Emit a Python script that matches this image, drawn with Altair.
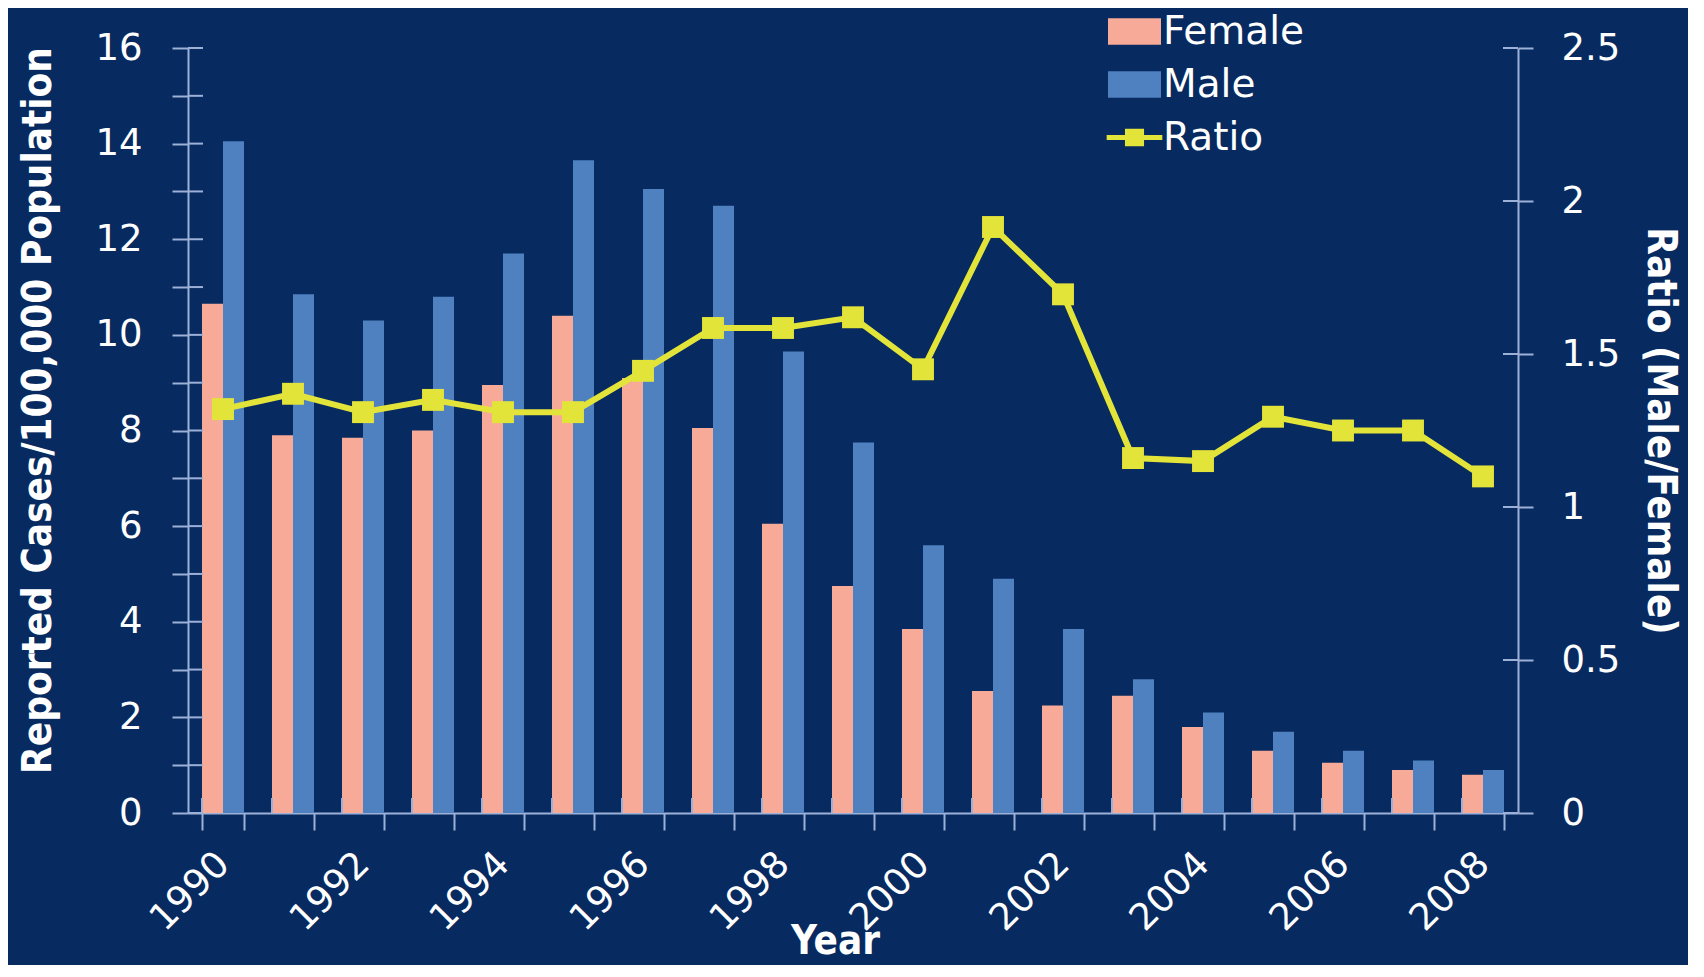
import altair as alt
import pandas as pd

years = list(range(1990, 2009))
female = [10.65, 7.9, 7.85, 8.0, 8.95, 10.4, 9.1, 8.05, 6.05, 4.75, 3.85, 2.55, 2.25, 2.45, 1.8, 1.3, 1.05, 0.9, 0.8]
male = [14.05, 10.85, 10.3, 10.8, 11.7, 13.65, 13.05, 12.7, 9.65, 7.75, 5.6, 4.9, 3.85, 2.8, 2.1, 1.7, 1.3, 1.1, 0.9]
ratio = [1.32, 1.37, 1.31, 1.35, 1.31, 1.31, 1.445, 1.585, 1.585, 1.62, 1.45, 1.915, 1.695, 1.16, 1.15, 1.295, 1.25, 1.25, 1.10]
series = ["Female", "Male", "Ratio"]
colors = ["#F8AA98", "#4F81C0", "#E3E43A"]
left_ticks = list(range(0, 17))
right_ticks = [0, 0.5, 1, 1.5, 2, 2.5]

BG = "#072A60"
AX = "#9DB1D8"
YEL = colors[2]
W, H = 1330, 765
TFONT = "'DejaVu Sans Condensed', 'Liberation Sans Narrow', 'DejaVu Sans', sans-serif"

df_bars = pd.DataFrame(
    [{"year": y, "series": "Female", "value": f} for y, f in zip(years, female)]
    + [{"year": y, "series": "Male", "value": m} for y, m in zip(years, male)]
)
df_ratio = pd.DataFrame({"year": years, "ratio": ratio})
df_lt = pd.DataFrame({"t": left_ticks})
df_rt = pd.DataFrame({"t": right_ticks})
df_xt = pd.DataFrame({"year": years})
df_leg = pd.DataFrame({"series": series})

x_scale = alt.Scale(paddingInner=0.4, paddingOuter=0.2)
left_scale = alt.Scale(domain=[0, 16], nice=False)
right_scale = alt.Scale(domain=[0, 2.5], nice=False)
color_scale = alt.Scale(domain=series, range=colors)

x_axis = alt.Axis(
    title="Year", labelAngle=-45, labelBaseline="middle",
    labelExpr="datum.value % 2 === 0 ? datum.label : ''",
    tickBand="extent", tickSize=17, labelPadding=28, titlePadding=-16,
    titleX=647,
)
left_axis = alt.Axis(
    title="Reported Cases/100,000 Population", values=left_ticks,
    labelExpr="datum.value % 2 === 0 ? datum.label : ''",
    tickSize=16, labelPadding=30, titlePadding=36, titleY=362,
)
right_axis = alt.Axis(
    title="Ratio (Male/Female)", orient="right", values=right_ticks, format="~g",
    tickSize=15, labelPadding=28, titlePadding=20,
)

rect_path = "M-1,-0.5H1V0.5H-1Z"
ratio_path = "M-1.05,-0.09H1.05V0.09H-1.05Z M-0.36,-0.33H0.36V0.33H-0.36Z"

legend = alt.Legend(
    title=None, orient="none", legendX=920, legendY=-43, direction="vertical",
    symbolSize=2809, symbolStrokeWidth=0, symbolOpacity=1,
    labelFont="DejaVu Sans", labelFontSize=39, labelColor="white",
    labelOffset=2, rowPadding=6,
)

bars = alt.Chart(df_bars).mark_bar().encode(
    x=alt.X("year:O", scale=x_scale, axis=x_axis),
    xOffset=alt.XOffset("series:N", scale=alt.Scale(domain=["Female", "Male"], paddingInner=0, paddingOuter=0)),
    y=alt.Y("value:Q", scale=left_scale, axis=left_axis),
    color=alt.Color("series:N", scale=color_scale, legend=legend),
)

# legend helper: symbols placed off-canvas, only the legend is visible
leg = alt.Chart(df_leg).mark_point(filled=True, strokeWidth=0).encode(
    x=alt.value(-4000), y=alt.value(-4000),
    color=alt.Color("series:N", scale=color_scale, legend=legend),
    shape=alt.Shape("series:N", scale=alt.Scale(domain=series, range=[rect_path, rect_path, ratio_path]), legend=legend),
)

left_in = alt.Chart(df_lt).mark_rule(color=AX, strokeWidth=2).encode(
    y=alt.Y("t:Q", scale=left_scale, axis=left_axis),
    x=alt.value(0), x2=alt.value(15),
)

x_in = alt.Chart(df_xt).mark_rule(color=AX, strokeWidth=2).encode(
    x=alt.X("year:O", bandPosition=0, scale=x_scale, axis=x_axis),
    y=alt.value(H - 15), y2=alt.value(H),
)

line = alt.Chart(df_ratio).mark_line(color=YEL, strokeWidth=6).encode(
    x=alt.X("year:O", scale=x_scale, axis=x_axis),
    y=alt.Y("ratio:Q", scale=right_scale, axis=right_axis),
)
pts = alt.Chart(df_ratio).mark_square(color=YEL, size=480, opacity=1).encode(
    x=alt.X("year:O", scale=x_scale, axis=x_axis),
    y=alt.Y("ratio:Q", scale=right_scale, axis=right_axis),
)
right_in = alt.Chart(df_rt).mark_rule(color=AX, strokeWidth=2).encode(
    y=alt.Y("t:Q", scale=right_scale, axis=right_axis),
    x=alt.value(W - 15), x2=alt.value(W),
)

chart = alt.layer(
    alt.layer(bars, left_in, x_in, leg),
    alt.layer(line, pts, right_in),
).resolve_scale(y="independent").properties(
    width=W, height=H, autosize="none", background=BG,
    padding={"left": 180, "top": 40, "right": 170, "bottom": 152},
).configure_view(stroke=None).configure_axis(
    grid=False, labelFont="DejaVu Sans", labelFontSize=37, labelColor="white",
    titleFont=TFONT, titleFontSize=40, titleFontWeight="bold", titleColor="white",
    domainColor=AX, tickColor=AX, domainWidth=2, tickWidth=2,
)

chart.save("out.html", embed_options={"renderer": "svg", "actions": False})
